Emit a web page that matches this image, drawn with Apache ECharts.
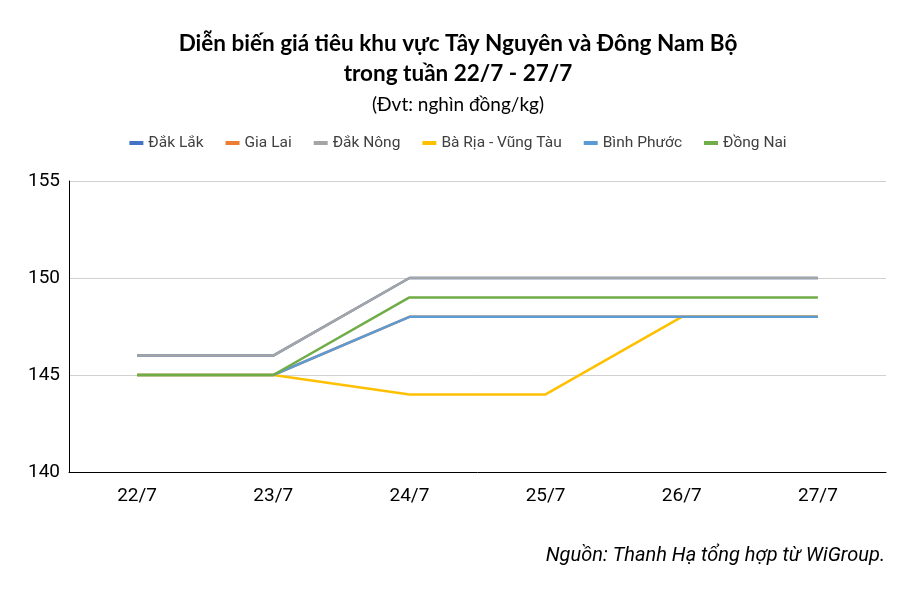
<!DOCTYPE html>
<html><head><meta charset="utf-8">
<script src="https://cdn.jsdelivr.net/npm/echarts@6/dist/echarts.min.js"></script>
<style>html,body{margin:0;padding:0;background:#fff}#c{width:916px;height:594px}</style>
</head><body><div id="c"></div>
<script>
const categories = ['22/7','23/7','24/7','25/7','26/7','27/7'];
const dakLak   = [146,146,150,150,150,150];
const giaLai   = [145,145,148,148,148,148];
const dakNong  = [146,146,150,150,150,150];
const baRia    = [145,145,144,144,148,148];
const binhPhuoc= [145,145,148,148,148,148];
const dongNai  = [145,145,149,149,149,149];
const seriesNames = ['Đắk Lắk','Gia Lai','Đắk Nông','Bà Rịa - Vũng Tàu','Bình Phước','Đồng Nai'];
const seriesData = [dakLak, giaLai, dakNong, baRia, binhPhuoc, dongNai];
const colors = ['#4472C4','#ED7D31','#A5A5A5','#FFC000','#5B9BD5','#70AD47'];

const chart = echarts.init(document.getElementById('c'), null, {renderer:'canvas'});
chart.setOption({
  animation:false,
  color: colors,
  title:[
    {text:'Diễn biến giá tiêu khu vực Tây Nguyên và Đông Nam Bộ\ntrong tuần 22/7 - 27/7', left:'center', top:24,
     textStyle:{fontFamily:'Lato', fontWeight:'bold', fontSize:22.5, color:'#000', lineHeight:30}},
    {text:'(Đvt: nghìn đồng/kg)', left:'center', top:90,
     textStyle:{fontFamily:'Lato', fontWeight:'normal', fontSize:19, color:'#000'}},
    {text:'Nguồn: Thanh Hạ tổng hợp từ WiGroup.', right:26, top:541,
     textStyle:{fontFamily:'Roboto', fontStyle:'italic', fontWeight:'normal', fontSize:20, color:'#000'}}
  ],
  legend:{top:130, left:'center', itemWidth:14, itemHeight:4, itemGap:22, icon:'rect',
    textStyle:{fontFamily:'Roboto', fontSize:15.5, color:'#404040'}, data:seriesNames},
  grid:{left:69, right:30, top:181, bottom:122, containLabel:false},
  xAxis:{type:'category', data:categories, boundaryGap:true,
    axisLine:{lineStyle:{color:'#000', width:1}},
    axisTick:{alignWithLabel:true, length:5, lineStyle:{color:'#000'}},
    axisLabel:{fontFamily:'Roboto', fontSize:19, color:'#000', margin:15}},
  yAxis:{type:'value', min:140, max:155, interval:5,
    axisLine:{show:true, lineStyle:{color:'#000', width:1}},
    axisTick:{show:false},
    splitLine:{lineStyle:{color:'#d0d0d0', width:1}},
    axisLabel:{fontFamily:'Roboto', fontSize:19, color:'#000', margin:9}},
  series: seriesNames.map((n,i)=>({name:n, type:'line', data:seriesData[i], symbol:'none',
    lineStyle:{width:2.5, color:colors[i]}, itemStyle:{color:colors[i]}, z:2+i}))
});
</script></body></html>
